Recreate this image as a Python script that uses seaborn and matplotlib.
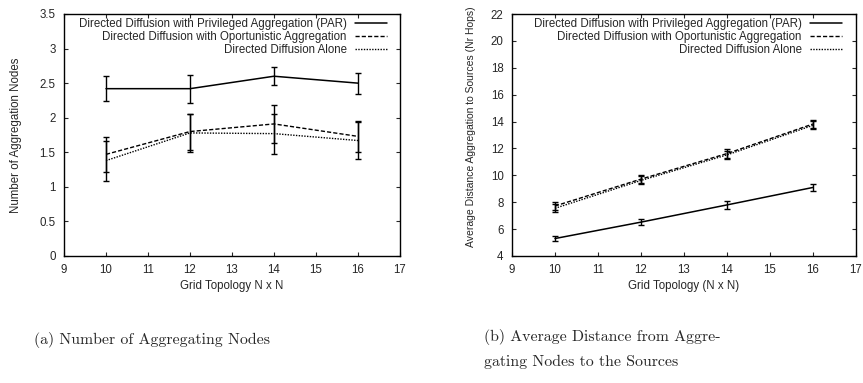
import matplotlib
matplotlib.use("Agg")
import matplotlib.pyplot as plt
import seaborn as sns
import pandas as pd
import numpy as np

# ---- data ----
grid = [10, 12, 14, 16]
series_names = [
    "Directed Diffusion with Privileged Aggregation (PAR)",
    "Directed Diffusion with Oportunistic Aggregation",
    "Directed Diffusion Alone",
]
# (a) number of aggregation nodes
nodes_par = [2.42, 2.42, 2.60, 2.50]
nodes_par_err = [0.18, 0.20, 0.13, 0.15]
nodes_opp = [1.47, 1.80, 1.91, 1.73]
nodes_opp_err = [0.25, 0.26, 0.27, 0.22]
nodes_alone = [1.38, 1.78, 1.77, 1.67]
nodes_alone_err = [0.29, 0.27, 0.29, 0.27]
# (b) average distance (hops)
dist_par = [5.30, 6.52, 7.80, 9.10]
dist_par_err = [0.18, 0.25, 0.30, 0.28]
dist_opp = [7.72, 9.72, 11.62, 13.82]
dist_opp_err = [0.28, 0.28, 0.32, 0.30]
dist_alone = [7.55, 9.62, 11.52, 13.72]
dist_alone_err = [0.30, 0.30, 0.32, 0.30]

sns.set_theme(style="ticks")
plt.rcParams["font.family"] = ["Liberation Sans", "DejaVu Sans"]

fig = plt.figure(figsize=(8.63, 3.83), dpi=100)
W, H = 863, 383
def pos(l, r, t, b):
    return [l / W, 1 - b / H, (r - l) / W, (b - t) / H]

ax1 = fig.add_axes(pos(64, 400, 14, 256))
ax2 = fig.add_axes(pos(512, 856, 14, 256))

styles = ["-", (0, (3, 1.5)), (0, (1, 1))]
widths = [1.1, 1.0, 1.0]

def draw(ax, vals, errs, ylim, yticks, ylabel, xlabel, ylabsize, ylabxy, legx):
    for name, v, e, ls, lw in zip(series_names, vals, errs, styles, widths):
        df = pd.DataFrame({"x": grid, "y": v})
        sns.lineplot(data=df, x="x", y="y", ax=ax, color="black", linestyle=ls,
                     linewidth=lw, label=name, errorbar=None)
        ax.errorbar(grid, v, yerr=e, fmt="none", ecolor="black", elinewidth=1.0,
                    capsize=2, capthick=1.0)
    ax.set_xlim(9, 17)
    ax.set_xticks(range(9, 18))
    ax.set_ylim(*ylim)
    ax.set_yticks(yticks)
    ax.set_yticklabels([("%g" % t) for t in yticks])
    ax.set_xlabel(xlabel, fontsize=8.3, labelpad=3)
    ax.set_ylabel(ylabel, fontsize=ylabsize)
    ax.yaxis.set_label_coords(*ylabxy)
    ax.tick_params(direction="in", length=3, width=0.8, labelsize=8.3,
                   top=True, right=True)
    ax.tick_params(axis="x", pad=6)
    ax.tick_params(axis="y", pad=6)
    for s in ax.spines.values():
        s.set_visible(True)
        s.set_linewidth(1.0)
        s.set_color("black")
    ax.legend(loc="upper right", bbox_to_anchor=(legx, 0.985), frameon=False,
              markerfirst=False, fontsize=8.3, handlelength=2.8,
              handletextpad=0.7, labelspacing=0.12, borderaxespad=0,
              borderpad=0)

draw(ax1, [nodes_par, nodes_opp, nodes_alone],
     [nodes_par_err, nodes_opp_err, nodes_alone_err],
     (0, 3.5), np.arange(0, 3.51, 0.5), "Number of Aggregation Nodes",
     "Grid Topology N x N", 8.3, (-42 / 336, 0.5), 0.961)
draw(ax2, [dist_par, dist_opp, dist_alone],
     [dist_par_err, dist_opp_err, dist_alone_err],
     (4, 22), list(range(4, 23, 2)),
     "Average Distance Aggregation to Sources (Nr Hops)",
     "Grid Topology (N x N)", 7.5, (-36 / 344, 0.535), 0.959)

cap_font = dict(family=["cmr10", "DejaVu Serif"], fontsize=11.4)
fig.text(34 / W, 1 - 340 / H, "(a) Number of Aggregating Nodes", ha="left",
         va="center", **cap_font)
fig.text(484 / W, 1 - 337 / H, "(b) Average Distance from Aggre-", ha="left",
         va="center", **cap_font)
fig.text(484 / W, 1 - 362 / H, "gating Nodes to the Sources", ha="left",
         va="center", **cap_font)

fig.savefig("out.png", dpi=100)
